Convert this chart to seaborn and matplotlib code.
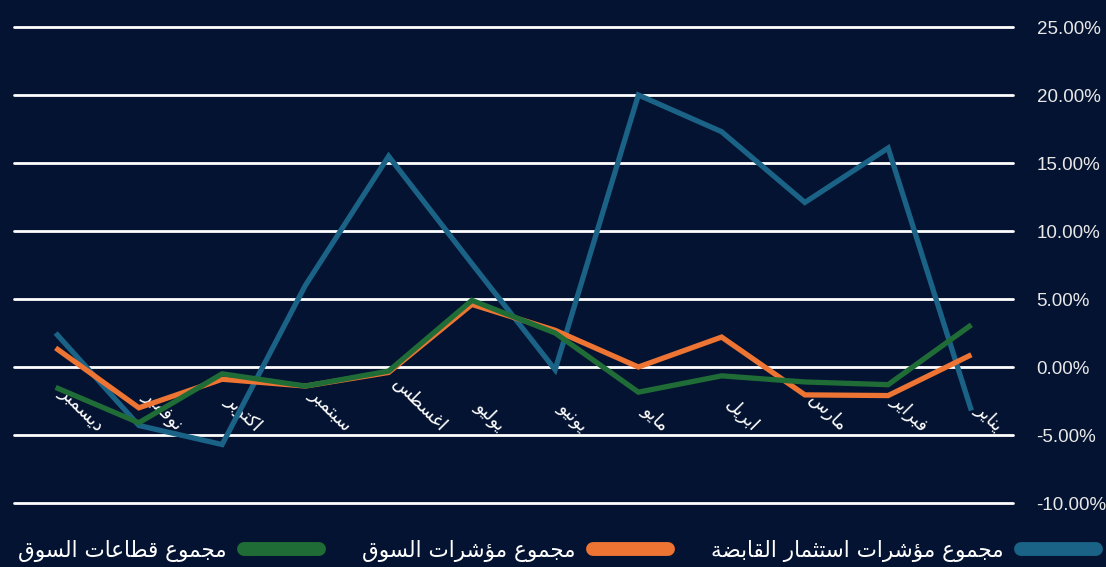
import matplotlib
matplotlib.use("Agg")
import matplotlib.pyplot as plt
import seaborn as sns
import pandas as pd
from matplotlib.lines import Line2D

# ---------------- data (logical order: Jan -> Dec) ----------------
months = ["يناير", "فبراير", "مارس", "ابريل", "مايو", "يونيو",
          "يوليو", "اغسطس", "سبتمبر", "اكتوبر", "نوفمبر", "ديسمبر"]
series_names = ["مجموع مؤشرات استثمار القابضة", "مجموع مؤشرات السوق", "مجموع قطاعات السوق"]
holding = [-3.2, 16.1, 12.1, 17.3, 20.0, -0.2, 7.6, 15.5, 6.0, -5.7, -4.3, 2.5]
market = [0.9, -2.1, -2.05, 2.2, 0.0, 2.7, 4.6, -0.4, -1.4, -0.9, -3.0, 1.4]
sectors = [3.1, -1.3, -1.1, -0.65, -1.85, 2.5, 4.9, -0.3, -1.4, -0.5, -4.1, -1.5]
y_ticks = [-10, -5, 0, 5, 10, 15, 20, 25]

colors = ["#1a6286", "#ed7433", "#1f6c36"]
BG = "#041331"

# ---------------- minimal Arabic shaping (presentation forms + RTL) ----------------
FORMS = {
    "\u0621": ("\uFE80", None, None, None),
    "\u0622": ("\uFE81", "\uFE82", None, None),
    "\u0623": ("\uFE83", "\uFE84", None, None),
    "\u0624": ("\uFE85", "\uFE86", None, None),
    "\u0625": ("\uFE87", "\uFE88", None, None),
    "\u0626": ("\uFE89", "\uFE8A", "\uFE8B", "\uFE8C"),
    "\u0627": ("\uFE8D", "\uFE8E", None, None),
    "\u0628": ("\uFE8F", "\uFE90", "\uFE91", "\uFE92"),
    "\u0629": ("\uFE93", "\uFE94", None, None),
    "\u062A": ("\uFE95", "\uFE96", "\uFE97", "\uFE98"),
    "\u062B": ("\uFE99", "\uFE9A", "\uFE9B", "\uFE9C"),
    "\u062C": ("\uFE9D", "\uFE9E", "\uFE9F", "\uFEA0"),
    "\u062D": ("\uFEA1", "\uFEA2", "\uFEA3", "\uFEA4"),
    "\u062E": ("\uFEA5", "\uFEA6", "\uFEA7", "\uFEA8"),
    "\u062F": ("\uFEA9", "\uFEAA", None, None),
    "\u0630": ("\uFEAB", "\uFEAC", None, None),
    "\u0631": ("\uFEAD", "\uFEAE", None, None),
    "\u0632": ("\uFEAF", "\uFEB0", None, None),
    "\u0633": ("\uFEB1", "\uFEB2", "\uFEB3", "\uFEB4"),
    "\u0634": ("\uFEB5", "\uFEB6", "\uFEB7", "\uFEB8"),
    "\u0635": ("\uFEB9", "\uFEBA", "\uFEBB", "\uFEBC"),
    "\u0636": ("\uFEBD", "\uFEBE", "\uFEBF", "\uFEC0"),
    "\u0637": ("\uFEC1", "\uFEC2", "\uFEC3", "\uFEC4"),
    "\u0638": ("\uFEC5", "\uFEC6", "\uFEC7", "\uFEC8"),
    "\u0639": ("\uFEC9", "\uFECA", "\uFECB", "\uFECC"),
    "\u063A": ("\uFECD", "\uFECE", "\uFECF", "\uFED0"),
    "\u0641": ("\uFED1", "\uFED2", "\uFED3", "\uFED4"),
    "\u0642": ("\uFED5", "\uFED6", "\uFED7", "\uFED8"),
    "\u0643": ("\uFED9", "\uFEDA", "\uFEDB", "\uFEDC"),
    "\u0644": ("\uFEDD", "\uFEDE", "\uFEDF", "\uFEE0"),
    "\u0645": ("\uFEE1", "\uFEE2", "\uFEE3", "\uFEE4"),
    "\u0646": ("\uFEE5", "\uFEE6", "\uFEE7", "\uFEE8"),
    "\u0647": ("\uFEE9", "\uFEEA", "\uFEEB", "\uFEEC"),
    "\u0648": ("\uFEED", "\uFEEE", None, None),
    "\u0649": ("\uFEEF", "\uFEF0", None, None),
    "\u064A": ("\uFEF1", "\uFEF2", "\uFEF3", "\uFEF4"),
}


def shape(text):
    try:
        import arabic_reshaper
        from bidi.algorithm import get_display
        return get_display(arabic_reshaper.reshape(text))
    except Exception:
        pass

    def dual(c):
        return c in FORMS and FORMS[c][2] is not None

    out = []
    n = len(text)
    for i, c in enumerate(text):
        if c not in FORMS:
            out.append(c)
            continue
        prev = text[i - 1] if i > 0 else ""
        nxt = text[i + 1] if i < n - 1 else ""
        jp = dual(prev)
        jn = dual(c) and nxt in FORMS
        iso, fin, ini, med = FORMS[c]
        if jp and jn:
            out.append(med)
        elif jp:
            out.append(fin)
        elif jn:
            out.append(ini)
        else:
            out.append(iso)
    return "".join(out)[::-1]


# ---------------- figure ----------------
sns.set_theme(style="dark")
plt.rcParams["font.family"] = ["DejaVu Sans"]

fig = plt.figure(figsize=(11.06, 5.67), dpi=100, facecolor=BG)
ax = fig.add_axes([14 / 1106, 64 / 567, 999 / 1106, 476 / 567])
ax.set_facecolor(BG)

labels = [shape(m) for m in months]
df = pd.DataFrame({
    "month": labels * 3,
    "value": holding + market + sectors,
    "series": [series_names[0]] * 12 + [series_names[1]] * 12 + [series_names[2]] * 12,
})

sns.lineplot(data=df, x="month", y="value", hue="series", hue_order=series_names,
             palette=colors, linewidth=3.8, sort=False, legend=False, ax=ax,
             zorder=3)
for ln in ax.get_lines():
    ln.set_solid_joinstyle("miter")
    ln.set_solid_capstyle("butt")

ax.set_xlim(11.5, -0.5)
ax.set_ylim(-10, 25)
ax.set_yticks(y_ticks)
ax.yaxis.tick_right()
ax.set_yticklabels([f"{v:.2f}%" for v in y_ticks], family="Liberation Sans",
                   fontsize=13.5, color="#e8e8e8")
ax.tick_params(axis="y", length=0, pad=17)
ax.grid(False)
for v in y_ticks:
    ax.axhline(v, color="white", linewidth=2.0, zorder=1, clip_on=False)

ax.set_xticks(range(12))
ax.set_xticklabels(labels, rotation=-45, ha="left", va="bottom",
                   rotation_mode="default", fontsize=13, color="white")
ax.tick_params(axis="x", length=0, pad=-49)

ax.set_xlabel("")
ax.set_ylabel("")
for s in ax.spines.values():
    s.set_visible(False)

# ---------------- legend (RTL: marker on the right) ----------------
order = [2, 1, 0]
handles = [Line2D([0], [0], color=colors[i], linewidth=10, solid_capstyle="round")
           for i in order]
leg = fig.legend(handles, [shape(series_names[i]) for i in order],
                 loc="center", bbox_to_anchor=(557 / 1106, 16 / 567), ncol=3,
                 frameon=False, markerfirst=False, handlelength=3.5,
                 handletextpad=0.8, columnspacing=2.0, fontsize=15.5,
                 labelcolor="white")

fig.savefig("out.png", dpi=100, facecolor=BG)
